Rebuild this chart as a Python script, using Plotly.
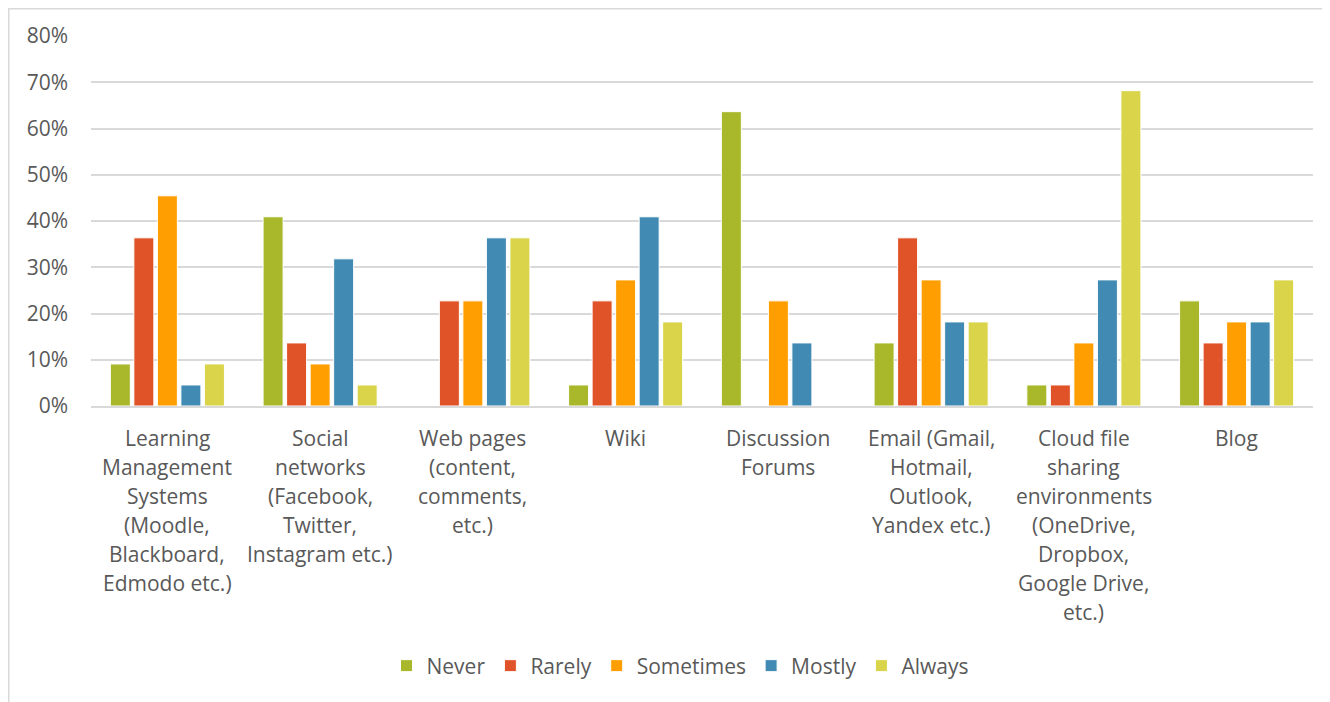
import plotly.graph_objects as go

# 各类工具使用频率（占比）
categories = [
    "Learning<br>Management<br>Systems<br>(Moodle,<br>Blackboard,<br>Edmodo etc.)",
    "Social<br>networks<br>(Facebook,<br>Twitter,<br>Instagram etc.)",
    "Web pages<br>(content,<br>comments,<br>etc.)",
    "Wiki",
    "Discussion<br>Forums",
    "Email (Gmail,<br>Hotmail,<br>Outlook,<br>Yandex etc.)",
    "Cloud file<br>sharing<br>environments<br>(OneDrive,<br>Dropbox,<br>Google Drive,<br>etc.)",
    "Blog",
]
never = [0.0909, 0.4091, 0.0, 0.0455, 0.6364, 0.1364, 0.0455, 0.2273]
rarely = [0.3636, 0.1364, 0.2273, 0.2273, 0.0, 0.3636, 0.0455, 0.1364]
sometimes = [0.4545, 0.0909, 0.2273, 0.2727, 0.2273, 0.2727, 0.1364, 0.1818]
mostly = [0.0455, 0.3182, 0.3636, 0.4091, 0.1364, 0.1818, 0.2727, 0.1818]
always = [0.0909, 0.0455, 0.3636, 0.1818, 0.0, 0.1818, 0.6818, 0.2727]

series = [
    ("Never", never, "#a8b82a"),
    ("Rarely", rarely, "#e05328"),
    ("Sometimes", sometimes, "#ff9e01"),
    ("Mostly", mostly, "#418ab3"),
    ("Always", always, "#d9d449"),
]

font_family = "Open Sans, Lato, sans-serif"
text_color = "#595959"
grid_color = "#d9d9d9"

fig = go.Figure()
for name, vals, color in series:
    fig.add_trace(go.Bar(x=categories, y=vals, name=name,
                         marker=dict(color=color, line=dict(color="white", width=1))))

# 类别标签：逐行用注释，保证行距
for cat in categories:
    for i, line in enumerate(cat.split("<br>")):
        fig.add_annotation(x=cat, y=0, xref="x", yref="y", text=line,
                           showarrow=False, yanchor="middle", yshift=-32 - 29 * i,
                           font=dict(family=font_family, size=21, color=text_color))

# 外框
fig.add_shape(type="rect", xref="paper", yref="paper",
              x0=-0.0673, x1=1.2, y0=-1.2, y1=1.0736,
              line=dict(color=grid_color, width=1.5), layer="below")

fig.update_layout(
    width=1330, height=702,
    margin=dict(l=83, r=25, t=28, b=304),
    paper_bgcolor="white", plot_bgcolor="white",
    font=dict(family=font_family, size=21, color=text_color),
    barmode="group", bargap=0.23, bargroupgap=0.15,
    showlegend=True,
    legend=dict(orientation="h", x=0.482, xanchor="center", y=-0.7027, yanchor="middle",
                font=dict(size=21, color=text_color), itemwidth=30, traceorder="normal"),
    xaxis=dict(showticklabels=False, showgrid=False, showline=True,
               linecolor=grid_color, linewidth=2, ticks=""),
    yaxis=dict(range=[0, 0.8], dtick=0.1, tickformat=".0%", showgrid=True,
               gridcolor=grid_color, gridwidth=1.5, zeroline=False,
               ticklabelstandoff=22, tickfont=dict(size=21, color=text_color)),
)

fig.write_html("out.html")
